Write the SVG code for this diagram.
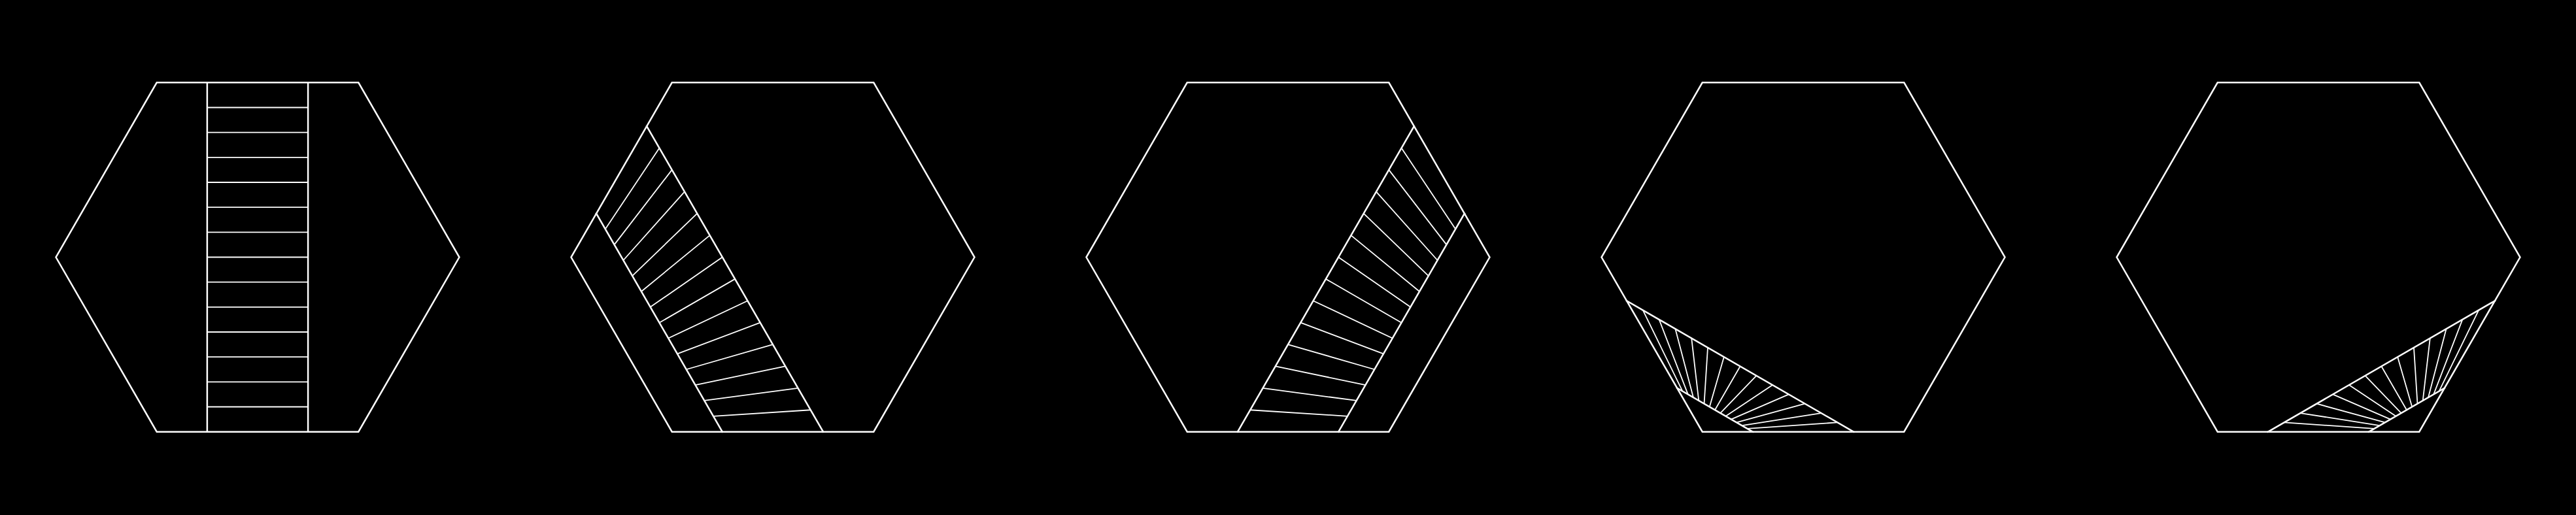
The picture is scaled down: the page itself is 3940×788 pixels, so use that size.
<svg xmlns="http://www.w3.org/2000/svg" width="3940" height="788" viewBox="0 0 3940 788">
<style>
.hex{fill:none;stroke:#fff;stroke-width:2.5}
.side{fill:none;stroke:#fff;stroke-width:2.5;stroke-linecap:square}
.rung{fill:none;stroke:#fff;stroke-width:1.8}
</style>
<defs>
<polygon id="hexshape" class="hex" points="-308.5,0 -154.25,-267.17 154.25,-267.17 308.5,0 154.25,267.17 -154.25,267.17"/>
<g id="ladderA">
<line class="side" x1="-192.81" y1="-200.38" x2="77.125" y2="267.17"/>
<line class="side" x1="-269.94" y1="-66.79" x2="-77.125" y2="267.17"/>
<path class="rung" d="M-256.17,-42.94L-173.53,-166.98M-242.40,-19.08L-154.25,-133.59M-228.62,4.77L-134.97,-100.19M-214.85,28.63L-115.69,-66.80M-201.08,52.48L-96.40,-33.40M-187.31,76.33L-77.12,0M-173.53,100.19L-57.84,33.39M-159.76,124.04L-38.56,66.79M-145.99,147.90L-19.28,100.18M-132.22,171.75L0,133.58M-118.45,195.60L19.28,166.98M-104.67,219.46L38.56,200.37M-90.90,243.31L57.84,233.77"/>
</g>
<g id="ladderB">
<line class="side" x1="-269.94" y1="66.79" x2="77.125" y2="267.17"/>
<line class="side" x1="-192.81" y1="200.38" x2="-77.125" y2="267.17"/>
<path class="rung" d="M-184.55,205.15L-245.15,81.10M-176.28,209.92L-220.36,95.42M-168.02,214.69L-195.57,109.73M-159.76,219.46L-170.78,124.04M-151.49,224.23L-145.99,138.36M-143.23,229.00L-121.20,152.67M-134.97,233.77L-96.41,166.98M-126.70,238.55L-71.62,181.29M-118.44,243.32L-46.83,195.61M-110.18,248.09L-22.04,209.92M-101.91,252.86L2.75,224.23M-93.65,257.63L27.54,238.55M-85.39,262.40L52.33,252.86"/>
</g>
</defs>
<rect x="0" y="0" width="3940" height="788" fill="#000"/>
<g id="hex1" transform="translate(394,393.5)">
<use href="#hexshape"/>
<line class="side" x1="-77.125" y1="-267.17" x2="-77.125" y2="267.17"/>
<line class="side" x1="77.125" y1="-267.17" x2="77.125" y2="267.17"/>
<path class="rung" d="M-77.125,-229L77.125,-229M-77.125,-190.83L77.125,-190.83M-77.125,-152.67L77.125,-152.67M-77.125,-114.5L77.125,-114.5M-77.125,-76.33L77.125,-76.33M-77.125,-38.17L77.125,-38.17M-77.125,0L77.125,0M-77.125,38.17L77.125,38.17M-77.125,76.33L77.125,76.33M-77.125,114.5L77.125,114.5M-77.125,152.67L77.125,152.67M-77.125,190.83L77.125,190.83M-77.125,229L77.125,229"/>
</g>
<g id="hex2" transform="translate(1182,393.5)">
<use href="#hexshape"/>
<use href="#ladderA"/>
</g>
<g id="hex3" transform="translate(1970,393.5) scale(-1,1)">
<use href="#hexshape"/>
<use href="#ladderA"/>
</g>
<g id="hex4" transform="translate(2758,393.5)">
<use href="#hexshape"/>
<use href="#ladderB"/>
</g>
<g id="hex5" transform="translate(3546,393.5) scale(-1,1)">
<use href="#hexshape"/>
<use href="#ladderB"/>
</g>
</svg>
